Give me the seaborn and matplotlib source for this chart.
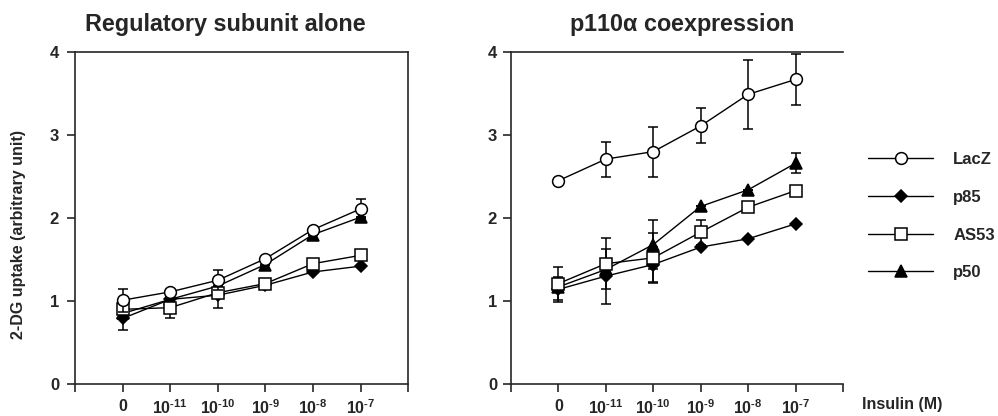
import matplotlib
matplotlib.use('Agg')
import numpy as np
import pandas as pd
import matplotlib.pyplot as plt
import seaborn as sns
from matplotlib.lines import Line2D

# x positions: 0, 1e-11 ... 1e-7 (categorical)
doses = ["0", r"$10^{\text{-}11}$", r"$10^{\text{-}10}$", r"$10^{\text{-}9}$",
         r"$10^{\text{-}8}$", r"$10^{\text{-}7}$"]
constructs = ["LacZ", "p85", "AS53", "p50"]

# Regulatory subunit alone
reg_lacz = [1.01, 1.11, 1.25, 1.51, 1.86, 2.11]
reg_p85 = [0.79, 1.02, 1.07, 1.19, 1.35, 1.42]
reg_as53 = [0.90, 0.92, 1.10, 1.21, 1.45, 1.55]
reg_p50 = [0.85, 1.02, 1.18, 1.44, 1.80, 2.01]
reg_lacz_err = [0.14, 0.0, 0.12, 0.0, 0.0, 0.12]
reg_p85_err = [0.14, 0.0, 0.16, 0.0, 0.0, 0.0]
reg_as53_err = [0.0, 0.13, 0.0, 0.0, 0.0, 0.0]
reg_p50_err = [0.0, 0.0, 0.0, 0.0, 0.0, 0.0]

# p110alpha coexpression
co_lacz = [2.45, 2.71, 2.80, 3.11, 3.49, 3.67]
co_p85 = [1.14, 1.30, 1.44, 1.65, 1.75, 1.93]
co_as53 = [1.21, 1.45, 1.52, 1.83, 2.13, 2.33]
co_p50 = [1.17, 1.38, 1.68, 2.14, 2.34, 2.66]
co_lacz_err = [0.0, 0.21, 0.30, 0.21, 0.42, 0.31]
co_p85_err = [0.15, 0.33, 0.21, 0.0, 0.0, 0.0]
co_as53_err = [0.20, 0.31, 0.30, 0.15, 0.0, 0.0]
co_p50_err = [0.0, 0.0, 0.30, 0.0, 0.0, 0.12]

styles = {
    "LacZ": dict(marker="o", markerfacecolor="white", markersize=8.5, z=5),
    "p85": dict(marker="D", markerfacecolor="black", markersize=6, z=3),
    "AS53": dict(marker="s", markerfacecolor="white", markersize=8, z=4),
    "p50": dict(marker="^", markerfacecolor="black", markersize=8, z=2),
}

sns.set_style("ticks")
plt.rcParams['font.family'] = ['Liberation Sans', 'DejaVu Sans']
plt.rcParams['font.weight'] = 'bold'
plt.rcParams['mathtext.fontset'] = 'custom'
plt.rcParams['mathtext.rm'] = 'Liberation Sans:bold'
plt.rcParams['mathtext.it'] = 'Liberation Sans:bold'
plt.rcParams['mathtext.bf'] = 'Liberation Sans:bold'


def draw_panel(ax, values, errors, title, title_x, right_spine, ypad):
    x = np.arange(len(doses))
    for name in constructs:
        st = styles[name]
        ax.errorbar(x, values[name], yerr=errors[name], fmt='none', ecolor='black',
                    elinewidth=1.1, capsize=3.8, capthick=1.1, zorder=st["z"])
        sns.lineplot(x=x, y=values[name], ax=ax, color='black', linewidth=1.0,
                     marker=st["marker"], markerfacecolor=st["markerfacecolor"],
                     markeredgecolor='black', markeredgewidth=1.1,
                     markersize=st["markersize"], zorder=st["z"] + 0.5, legend=False)
    ax.set_xlim(-1, 6)
    ax.set_ylim(0, 4)
    ax.set_xticks(range(-1, 7))
    ax.set_xticklabels([""] + doses + [""], fontsize=11.5, fontweight='bold')
    ax.set_yticks(range(0, 5))
    ax.set_yticklabels([str(v) for v in range(0, 5)], fontsize=12, fontweight='bold')
    ax.tick_params(axis='both', direction='out', length=6, width=1.2)
    ax.tick_params(axis='x', pad=4.5)
    ax.tick_params(axis='y', pad=ypad)
    for s in ax.spines.values():
        s.set_linewidth(1.2)
    ax.spines['right'].set_visible(right_spine)
    ax.spines['top'].set_visible(True)
    ax.set_title(title, fontsize=16.8, fontweight='bold', pad=15, x=title_x)
    ax.set_xlabel("")
    ax.set_ylabel("")


fig = plt.figure(figsize=(9.98, 4.16), dpi=100)
ax1 = fig.add_axes([0.0752, 0.0769, 0.3337, 0.798])
ax2 = fig.add_axes([0.512, 0.0769, 0.3327, 0.798])

draw_panel(ax1,
           {"LacZ": reg_lacz, "p85": reg_p85, "AS53": reg_as53, "p50": reg_p50},
           {"LacZ": reg_lacz_err, "p85": reg_p85_err, "AS53": reg_as53_err, "p50": reg_p50_err},
           "Regulatory subunit alone", 0.45, True, 5.5)
draw_panel(ax2,
           {"LacZ": co_lacz, "p85": co_p85, "AS53": co_as53, "p50": co_p50},
           {"LacZ": co_lacz_err, "p85": co_p85_err, "AS53": co_as53_err, "p50": co_p50_err},
           r"p110$\alpha$ coexpression", 0.515, False, 4)

ax1.set_ylabel("2-DG uptake (arbitrary unit)", fontsize=11.5, fontweight='bold')
ax1.yaxis.set_label_coords(-0.148, 0.449)

handles = [Line2D([0], [0], color='black', linewidth=1.0, marker=styles[n]["marker"],
                  markerfacecolor=styles[n]["markerfacecolor"], markeredgecolor='black',
                  markeredgewidth=1.1, markersize=styles[n]["markersize"])
           for n in constructs]
fig.legend(handles, constructs, loc='upper left', bbox_to_anchor=(0.870, 0.634),
           frameon=False, handlelength=3.9, handletextpad=1.2, labelspacing=1.36,
           borderaxespad=0, borderpad=0, prop={'weight': 'bold', 'size': 12})

fig.text(0.864, 1 - 405 / 416, "Insulin (M)", fontsize=11.5, fontweight='bold', va='center')

fig.savefig("out.png", dpi=100)
